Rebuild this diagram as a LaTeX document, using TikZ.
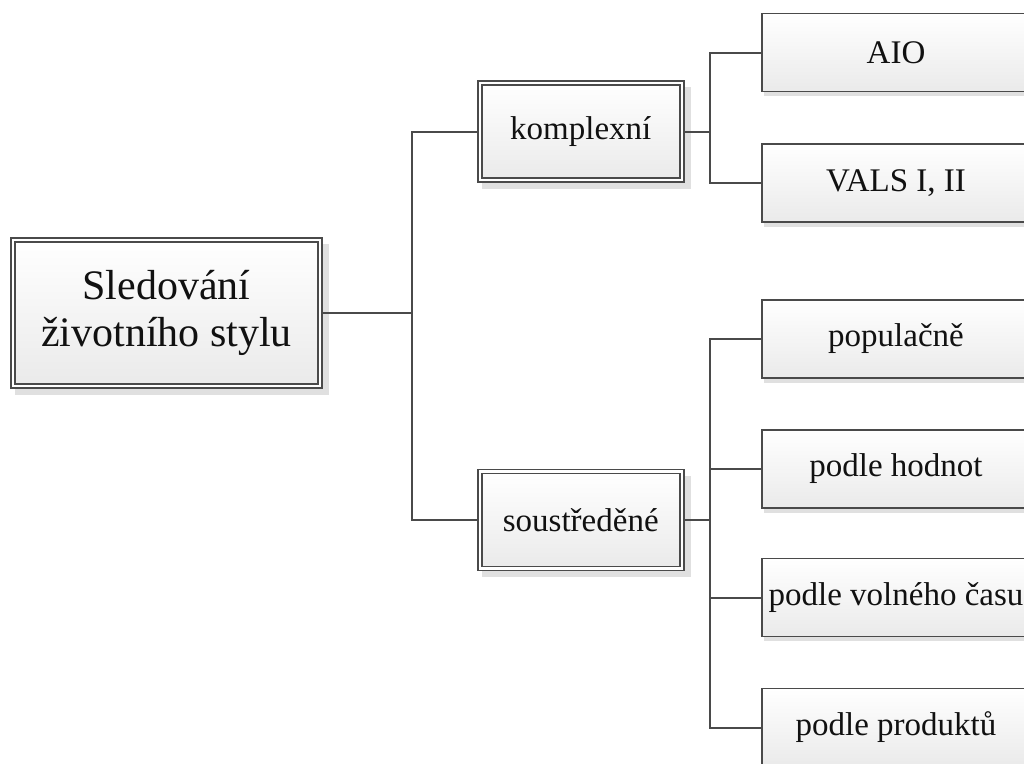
\documentclass[tikz,border=0pt]{standalone}
\usepackage{fontspec}
\setmainfont{Liberation Serif}
\usetikzlibrary{backgrounds,calc}
\definecolor{linec}{HTML}{4A4A4A}
\definecolor{textc}{HTML}{111111}
\definecolor{shadowc}{HTML}{E0E0E0}
\definecolor{botc}{HTML}{EAEAEA}
\begin{document}
\begin{tikzpicture}[x=1pt,y=-1pt,
  boxbase/.style={draw=linec, top color=white, bottom color=botc, text=textc, inner sep=0pt, anchor=center},
  dblbox/.style={boxbase, line width=1.6pt, double=white, double distance=2.3pt, minimum width=202pt, minimum height=97pt, font=\fontsize{33}{40}\selectfont},
  rootbox/.style={dblbox, minimum width=307pt, minimum height=146pt, align=center, font=\fontsize{42}{47}\selectfont},
  leafbox/.style={boxbase, line width=1.7pt, minimum width=268pt, minimum height=78pt, font=\fontsize{33}{40}\selectfont},
  conn/.style={draw=linec, line width=2pt},
  shadowfill/.style={fill=shadowc}
]
\useasboundingbox (0,0) rectangle (1024,763);

\node[rootbox] (root) at (166.5,312.75) {Sledování\\životního stylu};
\node[dblbox] (komp) at (580.75,131.5) {komplexní};
\node[dblbox] (sous) at (580.75,520) {soustředěné};
\node[leafbox] (aio)  at (896,52.5)  {AIO};
\node[leafbox] (vals) at (896,183)   {VALS I, II};
\node[leafbox] (pop)  at (896,339)   {populačně};
\node[leafbox] (hod)  at (896,469)   {podle hodnot};
\node[leafbox] (vol)  at (896,597.5) {podle volného času};
\node[leafbox] (prod) at (896,727.5) {podle produktů};

\coordinate (j1) at (412,312.75);
\coordinate (j2) at (710,131.5);
\coordinate (j3) at (710,520);

\begin{scope}[on background layer]
  \foreach \n in {root,komp,sous}
    \fill[shadowfill] ($(\n.north west)+(3,5)$) rectangle ($(\n.south east)+(8,8)$);
  \foreach \n in {aio,vals,pop,hod,vol,prod}
    \fill[shadowfill] ($(\n.north west)+(3,3)$) rectangle ($(\n.south east)+(4,4)$);
  \draw[conn] (root.east) -- (j1);
  \draw[conn] (komp.west) -| (j1);
  \draw[conn] (sous.west) -| (j1);
  \draw[conn] (komp.east) -- (j2);
  \draw[conn] (aio.west) -| (j2);
  \draw[conn] (vals.west) -| (j2);
  \draw[conn] (sous.east) -- (j3);
  \foreach \n in {pop,hod,vol,prod}
    \draw[conn] (\n.west) -| (j3);
\end{scope}
\end{tikzpicture}
\end{document}
